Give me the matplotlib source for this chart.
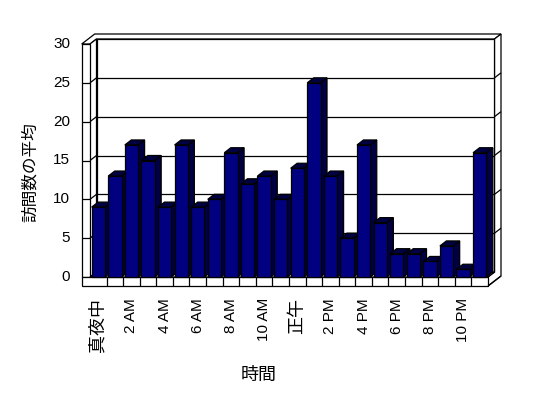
import matplotlib
matplotlib.use("Agg")
import matplotlib.pyplot as plt
from matplotlib.patches import Polygon, Rectangle

plt.rcParams['font.family'] = ['Liberation Sans', 'Noto Sans CJK JP', 'DejaVu Sans']

# ---- data ----
categories = ['真夜中', '1 AM', '2 AM', '3 AM', '4 AM', '5 AM', '6 AM', '7 AM',
              '8 AM', '9 AM', '10 AM', '11 AM', '正午', '1 PM', '2 PM', '3 PM',
              '4 PM', '5 PM', '6 PM', '7 PM', '8 PM', '9 PM', '10 PM', '11 PM']
values = [9, 13, 17, 15, 9, 17, 9, 10, 16, 12, 13, 10,
          14, 25, 13, 5, 17, 7, 3, 3, 2, 4, 1, 16]
y_ticks = [0, 5, 10, 15, 20, 25, 30]
x_label = '時間'
y_label = '訪問数の平均'

# ---- style ----
W, H = 548, 398
front_color = '#000080'
shade_color = '#000042'
lw = 0.9

fig = plt.figure(figsize=(W / 100, H / 100), dpi=100)
# front plane: x pixels 90..488, y pixels 277..44 (from top)
ax = fig.add_axes([90 / W, (H - 277) / H, (488 - 90) / W, (277 - 44) / H])
n = len(values)
ymax = y_ticks[-1]
ax.set_xlim(0, n)
ax.set_ylim(0, ymax)
ax.axis('off')

px_x = (488 - 90) / n          # pixels per category
px_y = (277 - 44) / ymax       # pixels per unit
dx = 6.5 / px_x                # depth offset in data units
dy = 5.0 / px_y
wall = 8.3 / px_x              # left wall thickness
floor_h = 9.0 / px_y           # floor thickness

def poly(pts, fc='white', z=1, ec='black'):
    p = Polygon(pts, closed=True, facecolor=fc, edgecolor=ec, linewidth=lw,
                zorder=z, clip_on=False, joinstyle='miter')
    ax.add_patch(p)

def line(xs, ys, z=2):
    ax.plot(xs, ys, color='black', linewidth=lw, zorder=z, clip_on=False,
            solid_capstyle='butt')

# top faces of walls
poly([(-wall, ymax), (0, ymax), (dx, ymax + dy), (n + dx, ymax + dy),
      (n + 2 * dx, ymax + 2 * dy), (-wall + 2 * dx, ymax + 2 * dy)], z=1)
# right face of back wall + floor
poly([(n, -floor_h), (n, 0), (n + dx, dy), (n + dx, ymax + dy),
      (n + 2 * dx, ymax + 2 * dy), (n + 2 * dx, -floor_h + 2 * dy)], z=1)
# back wall inner face
poly([(dx, dy), (n + dx, dy), (n + dx, ymax + dy), (dx, ymax + dy)], z=1)
# left wall inner face
poly([(0, 0), (dx, dy), (dx, ymax + dy), (0, ymax)], z=1)
# left wall front face
poly([(-wall, 0), (0, 0), (0, ymax), (-wall, ymax)], z=1)
# floor top
poly([(0, 0), (n, 0), (n + dx, dy), (dx, dy)], z=1)
# floor front face
poly([(-wall, -floor_h), (n, -floor_h), (n, 0), (-wall, 0)], z=1)
line([n, n + 2 * dx], [-floor_h, -floor_h + 2 * dy])

# gridlines
for v in y_ticks:
    if 0 < v < ymax:
        line([dx, n + dx], [v + dy, v + dy])
        line([n + dx, n + 2 * dx], [v + dy, v + 2 * dy])
        line([-wall, 0], [v, v])
        line([0, dx], [v, v + dy])
# floor dividers
for i in range(1, n):
    line([i, i], [-floor_h, 0])

# bars
xs = [i + 0.5 for i in range(n)]
bars = ax.bar(xs, values, width=0.8, color=front_color, edgecolor='black',
              linewidth=lw)
for i, (b, v) in enumerate(zip(bars, values)):
    x0 = b.get_x()
    x1 = x0 + b.get_width()
    base = 10 + 3 * i
    poly([(x1, 0), (x1 + dx, dy), (x1 + dx, v + dy), (x1, v)], fc=shade_color, z=base)
    poly([(x0, v), (x1, v), (x1 + dx, v + dy), (x0 + dx, v + dy)], fc=shade_color, z=base + 1)
    b.set_zorder(base + 2)
    b.set_clip_on(False)

# y tick labels
for v in y_ticks:
    ax.text(-wall - 11.5 / px_x, v, str(v), ha='right', va='center',
            fontsize=11, clip_on=False)

# x tick labels
for i in range(0, n, 2):
    lab = categories[i]
    cjk = any(ord(c) > 0x3000 for c in lab)
    ax.text(xs[i], -21 / px_y, lab, rotation=90, ha='center', va='top',
            fontsize=13 if cjk else 11, clip_on=False)

# axis titles
ax.text((259 - 90) / px_x, -(375 - 277) / px_y, x_label, ha='center', va='center',
        fontsize=13, clip_on=False)
ax.text((30 - 90) / px_x, (277 - 172) / px_y, y_label, ha='center', va='center',
        rotation=90, fontsize=12, clip_on=False)

fig.savefig('out.png', dpi=100)
